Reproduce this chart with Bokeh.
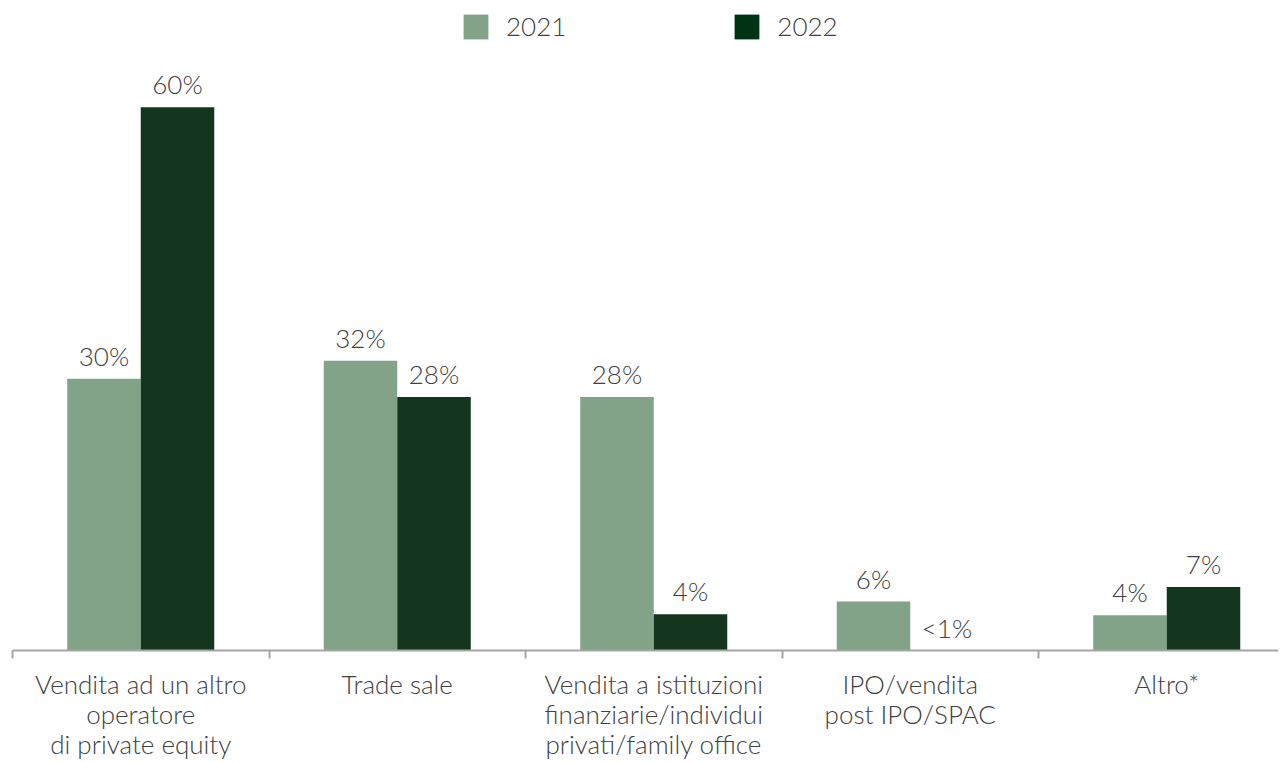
from bokeh.plotting import figure
from bokeh.models import Range1d, FixedTicker, Legend, LegendItem, ColumnDataSource
from bokeh.core.properties import value
from bokeh.embed import file_html
from bokeh.resources import INLINE

categories = ["Vendita ad un altro\noperatore\ndi private equity",
              "Trade sale",
              "Vendita a istituzioni\nfinanziarie/individui\nprivati/family office",
              "IPO/vendita\npost IPO/SPAC",
              "Altro*"]
series_names = ["2021", "2022"]
values_2021 = [30, 32, 28, 5.4, 3.9]
values_2022 = [60, 28, 4, 0, 7]
labels_2021 = ["30%", "32%", "28%", "6%", "4%"]
labels_2022 = ["60%", "28%", "4%", "<1%", "7%"]

C21 = "#82a388"
C22 = "#14361f"
C22_LEG = "#003314"
TXT = "#404040"
FONT = "'Lato Light', Lato"
AX = "#a6a6a6"

pos = list(range(1, len(categories) + 1))
bw = 0.2866
x21 = [p_ - bw / 2 for p_ in pos]
x22 = [p_ + bw / 2 for p_ in pos]

p = figure(width=1278, frame_width=1266, frame_height=642,
           output_backend="svg", toolbar_location=None,
           x_range=Range1d(0.5, 0.5 + 1266 / 256.5), y_range=Range1d(0, 70.9),
           y_axis_location=None, min_border_left=12, min_border_right=0,
           min_border_top=8, min_border_bottom=0)
p.outline_line_color = None
p.xgrid.visible = False
p.ygrid.visible = False
p.background_fill_color = "white"

s21 = ColumnDataSource(dict(x=x21, top=values_2021, lab=labels_2021))
s22 = ColumnDataSource(dict(x=x22, top=values_2022, lab=labels_2022))
p.vbar(x="x", top="top", width=bw, source=s21, fill_color=C21, line_color=None)
p.vbar(x="x", top="top", width=bw, source=s22, fill_color=C22, line_color=None)

for src in (s21, s22):
    p.text(x="x", y="top", text="lab", source=src, text_align="center",
           text_baseline="alphabetic", y_offset=-23, text_font=value(FONT),
           text_font_size="26px", text_color=TXT)

# legend swatches: zero-height bars outside the visible range
r1 = p.vbar(x=[0], top=[0], width=bw, fill_color=C21, line_color=None)
r2 = p.vbar(x=[0], top=[0], width=bw, fill_color=C22_LEG, line_color=None)
legend = Legend(items=[LegendItem(label=series_names[0], renderers=[r1]),
                       LegendItem(label=series_names[1], renderers=[r2])],
                orientation="horizontal", location=(448, 608),
                glyph_width=31, glyph_height=31, label_standoff=15, spacing=165,
                padding=0, margin=0, border_line_color=None,
                background_fill_alpha=0,
                label_text_font=FONT, label_text_font_size="26px",
                label_text_color=TXT, label_height=31)
p.add_layout(legend, "center")

ax = p.xaxis[0]
ax.ticker = FixedTicker(ticks=pos, minor_ticks=[q - 0.5 for q in pos] + [len(pos) + 0.5])
ax.major_label_overrides = {i: c for i, c in zip(pos, categories)}
ax.major_tick_out = 0
ax.major_tick_in = 0
ax.minor_tick_out = 8
ax.minor_tick_in = 0
ax.minor_tick_line_color = AX
ax.minor_tick_line_width = 2
ax.axis_line_color = AX
ax.axis_line_width = 2
ax.major_label_text_font = FONT
ax.major_label_text_font_size = "26px"
ax.major_label_text_color = TXT
ax.major_label_text_line_height = 0.94
ax.major_label_standoff = 9
ax.major_label_orientation = "horizontal"

open("out.html", "w").write(file_html(p, INLINE))
